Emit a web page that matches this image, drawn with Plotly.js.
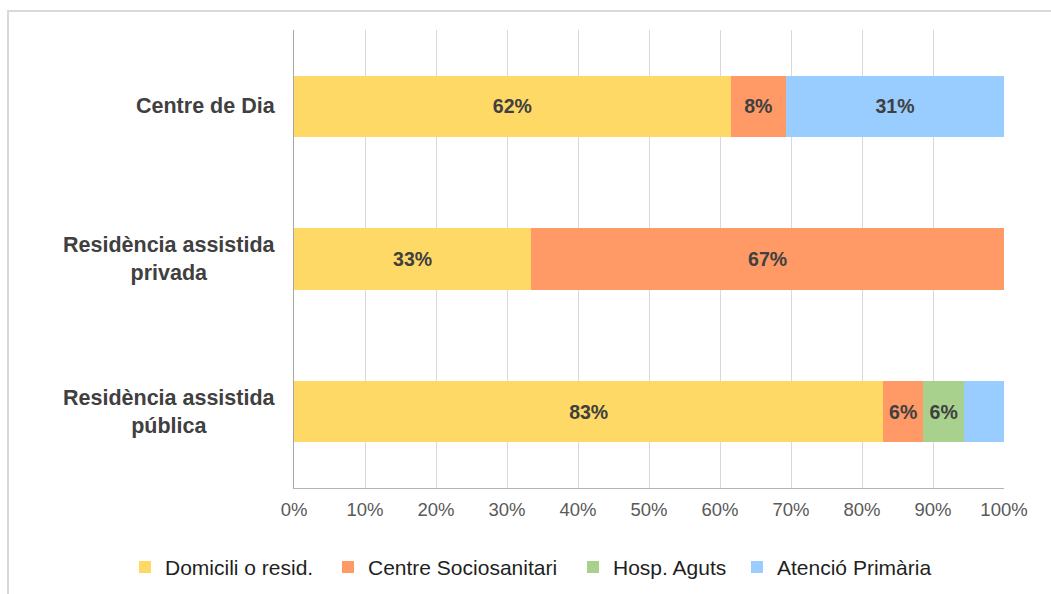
<!DOCTYPE html>
<html>
<head>
<meta charset="utf-8">
<script src="https://cdn.plot.ly/plotly-3.0.1.min.js"></script>
<style>
  html, body { margin: 0; padding: 0; background: #ffffff; overflow: hidden; }
  #chart { position: absolute; left: 0; top: 0; width: 1051px; height: 594px; }
  #frame { position: absolute; left: 7px; top: 10px; width: 2000px; height: 2000px;
           border: 2px solid #d9d9d9; pointer-events: none; }
</style>
</head>
<body>
<div id="chart"></div>
<div id="frame"></div>
<script>
// Categories, top to bottom as drawn
const categories = ['Centre de Dia', 'Residència assistida privada', 'Residència assistida pública'];
const categoryLabels = ['Centre de Dia', 'Residència assistida<br>privada', 'Residència assistida<br>pública'];

// Series (share of each category)
const seriesNames = ['Domicili o resid.', 'Centre Sociosanitari', 'Hosp. Aguts', 'Atenció Primària'];
const domicili      = [0.615, 0.334, 0.830];
const sociosanitari = [0.078, 0.666, 0.056];
const hospAguts     = [0.000, 0.000, 0.058];
const atencioPrim   = [0.307, 0.000, 0.056];

// Which data labels are shown in the reference
const showDomicili      = [true, true, true];
const showSociosanitari = [true, true, true];
const showHospAguts     = [false, false, true];
const showAtencioPrim   = [true, false, false];

const colors = ['#FFD966', '#FF9966', '#A9D18E', '#99CCFF'];

const seriesValues = [domicili, sociosanitari, hospAguts, atencioPrim];
const seriesShow = [showDomicili, showSociosanitari, showHospAguts, showAtencioPrim];

const fontFamily = '"Liberation Sans", Arial, sans-serif';

// one legend per series so each entry sits where the reference puts it
const legendIds = ['legend', 'legend2', 'legend3', 'legend4'];
const legendLeftPx = [125, 328, 573, 737];

const traces = seriesValues.map((vals, i) => ({
  type: 'bar',
  orientation: 'h',
  name: seriesNames[i],
  legend: legendIds[i],
  y: categories,
  x: vals,
  marker: { color: colors[i] },
  text: vals.map((v, j) => (seriesShow[i][j] && v > 0) ? Math.round(v * 100) + '%' : ''),
  textposition: 'inside',
  insidetextanchor: 'middle',
  textangle: 0,
  constraintext: 'none',
  textfont: { family: fontFamily, size: 19.5, color: '#404040', weight: 'bold' },
  hoverinfo: 'x+name'
}));

const annotations = categories.map((c, i) => ({
  xref: 'paper', yref: 'y',
  x: 0, y: c,
  xanchor: 'right', yanchor: 'middle',
  xshift: -16,
  text: categoryLabels[i],
  align: 'center',
  showarrow: false,
  font: { family: fontFamily, size: 21.5, color: '#404040', weight: 'bold' }
}));

const layout = {
  width: 1051,
  height: 594,
  margin: { l: 294, r: 47, t: 30, b: 106 },
  paper_bgcolor: 'rgba(0,0,0,0)',
  plot_bgcolor: '#ffffff',
  barmode: 'stack',
  bargap: 0.6,
  showlegend: true,
  xaxis: {
    range: [0, 1],
    dtick: 0.1,
    tick0: 0,
    tickformat: '.0%',
    showgrid: true,
    gridcolor: '#d9d9d9',
    gridwidth: 1,
    zeroline: false,
    showline: true,
    linecolor: '#b3b3b3',
    linewidth: 1,
    ticks: '',
    ticklabelstandoff: 5,
    tickfont: { family: fontFamily, size: 18.5, color: '#595959' },
    fixedrange: true
  },
  yaxis: {
    type: 'category',
    autorange: 'reversed',
    showticklabels: false,
    showgrid: false,
    zeroline: false,
    showline: true,
    linecolor: '#a6a6a6',
    linewidth: 1,
    ticks: '',
    fixedrange: true
  },
  annotations: annotations
};

legendIds.forEach((id, i) => {
  layout[id] = {
    orientation: 'h',
    xref: 'container', yref: 'container',
    x: legendLeftPx[i] / 1051, xanchor: 'left',
    y: 0.045, yanchor: 'middle',
    bgcolor: 'rgba(0,0,0,0)',
    font: { family: fontFamily, size: 21, color: '#1f1f1f' }
  };
});

Plotly.newPlot('chart', traces, layout, { displayModeBar: false, staticPlot: true });
</script>
</body>
</html>
